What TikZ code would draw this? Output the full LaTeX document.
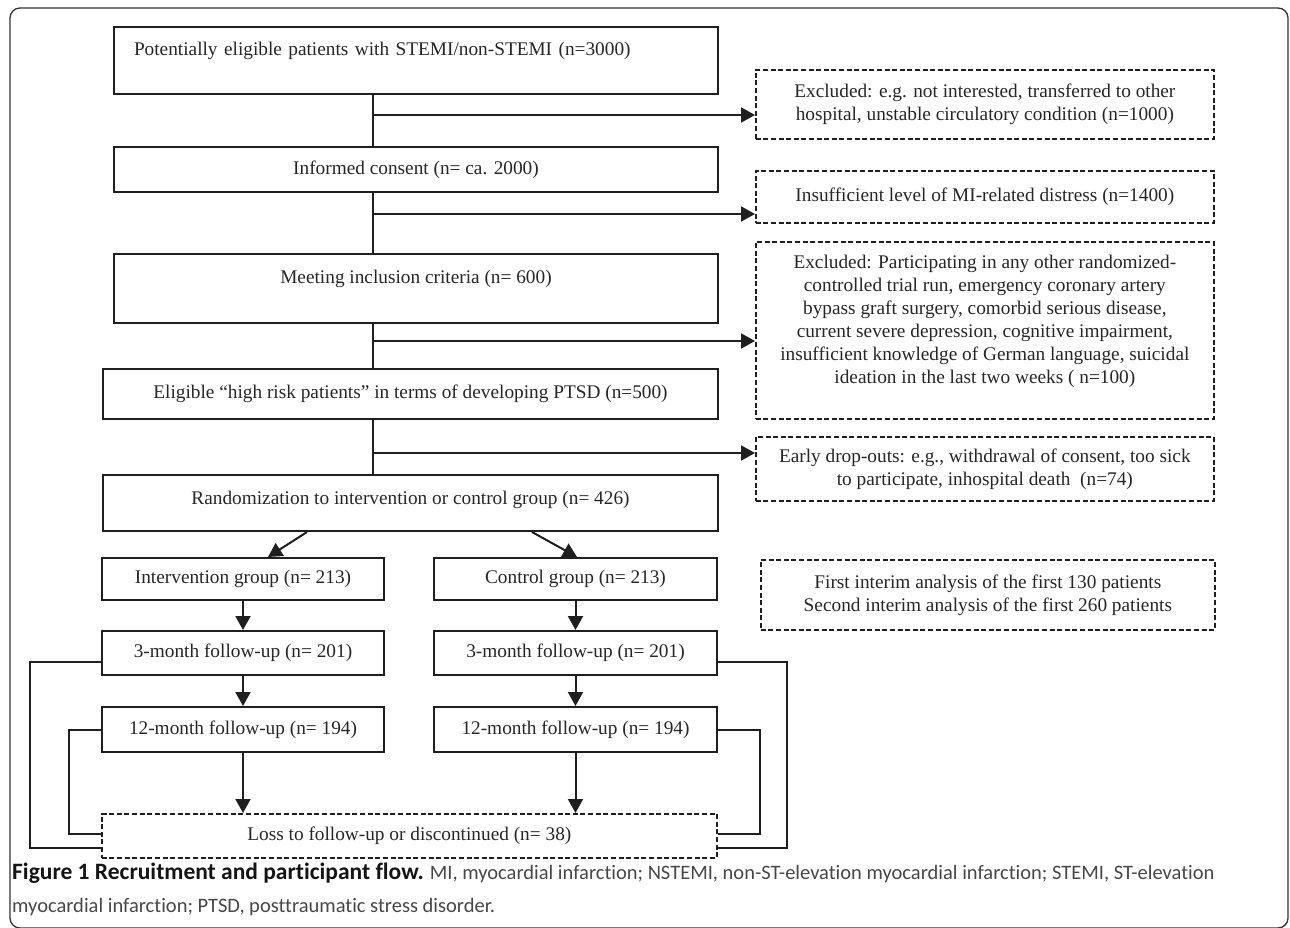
\documentclass[tikz,border=0pt]{standalone}
\usepackage{fontspec}
\setmainfont{Liberation Serif}
\newfontfamily\capfont[Ligatures=NoCommon]{Carlito}
\usetikzlibrary{arrows.meta}
\begin{document}
\begin{tikzpicture}[x=1pt,y=-1pt,
  every node/.style={text=black!85, font=\fontsize{19.3}{23}\selectfont},
  box/.style={draw=black!88, line width=2pt, inner sep=0pt, align=center, anchor=north west},
  dbox/.style={box, dash pattern=on 5pt off 2.6pt, line width=1.7pt},
  conn/.style={draw=black!88, line width=2pt},
  arr/.style={conn, -{Triangle[length=14pt,width=15pt]}},
  side/.style={draw=black!88, line width=1.7pt}]
\useasboundingbox (0,0) rectangle (1290,928);
\draw[black!80, line width=1.3pt, rounded corners=10pt] (10,8) rectangle (1288,928);

% main column
\node[box, minimum width=604, minimum height=67, text width=564, inner xsep=20pt, align=left, text height=29, text depth=38] (b1) at (113,26) {Potentially eligible patients with STEMI/non-STEMI (n=3000)};
\node[box, minimum width=604, minimum height=45] (b2) at (113,146) {Informed consent (n= ca. 2000)};
\node[box, minimum width=604, minimum height=69, text height=29, text depth=40] (b3) at (113,253) {Meeting inclusion criteria (n= 600)};
\node[box, minimum width=615, minimum height=50] (b4) at (102,368) {Eligible “high risk patients” in terms of developing PTSD (n=500)};
\node[box, minimum width=615, minimum height=56, text height=29, text depth=27] (b5) at (102,474) {Randomization to intervention or control group (n= 426)};

% groups
\node[box, minimum width=282, minimum height=42] (b6) at (101,557) {Intervention group (n= 213)};
\node[box, minimum width=283, minimum height=42] (b7) at (433,557) {Control group (n= 213)};
\node[box, minimum width=282, minimum height=44] (b8) at (101,630) {3-month follow-up (n= 201)};
\node[box, minimum width=283, minimum height=44] (b10) at (433,630) {3-month follow-up (n= 201)};
\node[box, minimum width=282, minimum height=45] (b9) at (101,706) {12-month follow-up (n= 194)};
\node[box, minimum width=283, minimum height=45] (b11) at (433,706) {12-month follow-up (n= 194)};
\node[dbox, minimum width=615, minimum height=44] (loss) at (101,813) {Loss to follow-up or discontinued (n= 38)};

% right dashed boxes
\node[dbox, minimum width=458, minimum height=69] (e1) at (755,69) {Excluded: e.g. not interested, transferred to other\\hospital, unstable circulatory condition (n=1000)};
\node[dbox, minimum width=458, minimum height=52] (e2) at (755,170) {Insufficient level of MI-related distress (n=1400)};
\node[dbox, minimum width=458, minimum height=177, text height=142, text depth=35] (e3) at (755,241) {Excluded: Participating in any other randomized-\\controlled trial run, emergency coronary artery\\bypass graft surgery, comorbid serious disease,\\current severe depression, cognitive impairment,\\insufficient knowledge of German language, suicidal\\ideation in the last two weeks ( n=100)};
\node[dbox, minimum width=458, minimum height=64] (e4) at (755,436) {Early drop-outs: e.g., withdrawal of consent, too sick\\to participate, inhospital death\ \ (n=74)};
\node[dbox, minimum width=454, minimum height=70] (ia) at (760,559) {First interim analysis of the first 130 patients\\Second interim analysis of the first 260 patients};

% main vertical line
\coordinate (vx) at (373,0);
\draw[conn] (b1.south -| vx) -- (b2.north -| vx);
\draw[conn] (b2.south -| vx) -- (b3.north -| vx);
\draw[conn] (b3.south -| vx) -- (b4.north -| vx);
\draw[conn] (b4.south -| vx) -- (b5.north -| vx);

% exclusion branches
\coordinate (j1) at (373,115);
\coordinate (j2) at (373,214);
\coordinate (j3) at (373,341);
\coordinate (j4) at (373,453);
\draw[arr] (j1) -- (j1 -| e1.west);
\draw[arr] (j2) -- (j2 -| e2.west);
\draw[arr] (j3) -- (j3 -| e3.west);
\draw[arr] (j4) -- (j4 -| e4.west);

% randomization split
\coordinate (dl) at (307,0);
\coordinate (dlt) at (268,0);
\coordinate (dr) at (532,0);
\coordinate (drt) at (577,0);
\draw[arr] (b5.south -| dl) -- (b6.north -| dlt);
\draw[arr] (b5.south -| dr) -- (b7.north -| drt);

% follow-up arrows
\draw[arr] (b6.south) -- (b8.north);
\draw[arr] (b8.south) -- (b9.north);
\draw[arr] (b9.south) -- (b9.south |- loss.north);
\draw[arr] (b7.south) -- (b10.north);
\draw[arr] (b10.south) -- (b11.north);
\draw[arr] (b11.south) -- (b11.south |- loss.north);

% side loss lines
\draw[side] (b8.west |- 0,662) -| (30,848) -- (loss.west |- 0,848);
\draw[side] (b9.west |- 0,730) -| (69,834) -- (loss.west |- 0,834);
\draw[side] (b10.east |- 0,662) -| (787,848) -- (loss.east |- 0,848);
\draw[side] (b11.east |- 0,730) -| (760,834) -- (loss.east |- 0,834);

% caption
\node[anchor=north west, inner sep=0pt, align=left, text=black!72, font=\capfont\fontsize{20.5}{33}\selectfont] (cap) at (12,863) {{\fontsize{23.5}{33}\selectfont\bfseries\color{black!92}Figure 1 Recruitment and participant flow.} MI, myocardial infarction; NSTEMI, non-ST-elevation myocardial infarction; STEMI, ST-elevation\\myocardial infarction; PTSD, posttraumatic stress disorder.};
\end{tikzpicture}
\end{document}
